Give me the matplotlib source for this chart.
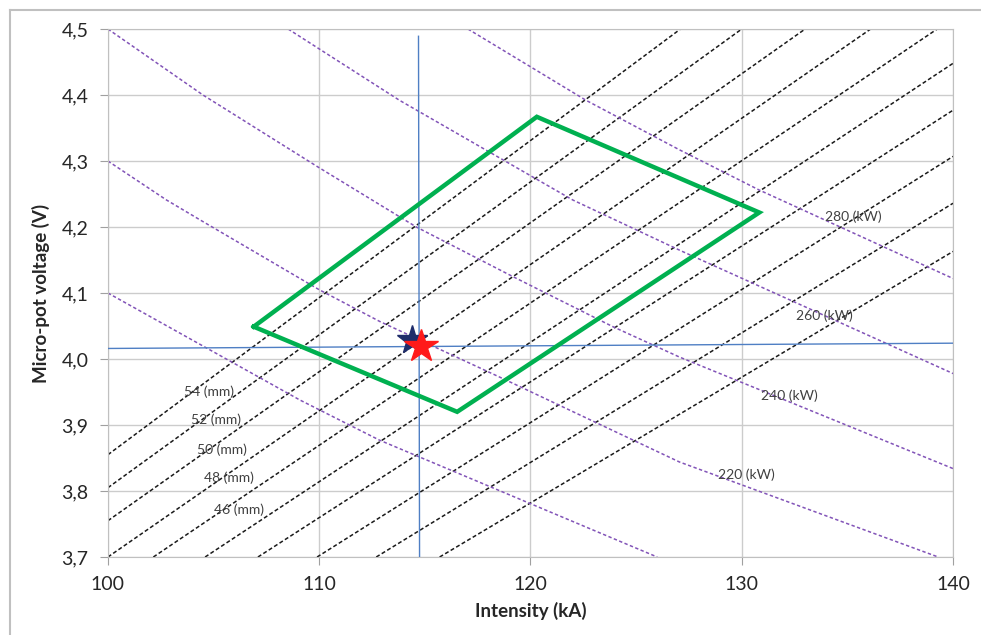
import numpy as np
import matplotlib.pyplot as plt
from matplotlib.lines import Line2D

plt.rcParams['font.family'] = ['Lato', 'DejaVu Sans']

# iso-length lines (mm): start and end points (I in kA, V in V)
mm_values = [54, 52, 50, 48, 46, 44, 42, 40, 38, 36]
mm_i0 = [100.0, 100.0, 100.0, 100.0, 102.15, 104.6, 107.1, 109.9, 112.7, 115.7]
mm_v0 = [3.855, 3.805, 3.755, 3.70, 3.70, 3.70, 3.70, 3.70, 3.70, 3.70]
mm_i1 = [127.1, 130.0, 133.0, 136.1, 139.25, 140.0, 140.0, 140.0, 140.0, 140.0]
mm_v1 = [4.50, 4.50, 4.50, 4.50, 4.50, 4.448, 4.377, 4.307, 4.236, 4.163]

# labels for the mm lines
mm_lab_text = ['54 (mm)', '52 (mm)', '50 (mm)', '48 (mm)', '46 (mm)']
mm_lab_i = [104.78, 105.1, 105.4, 105.72, 106.2]
mm_lab_v = [3.950, 3.908, 3.862, 3.820, 3.771]

# iso-power curves (kW)
kw_200_i = [100.0, 109.08, 112.86, 126.0]
kw_200_v = [4.10, 3.938, 3.877, 3.70]
kw_220_i = [100.0, 102.77, 104.35, 110.0, 112.86, 118.85, 127.05, 139.3]
kw_220_v = [4.30, 4.241, 4.211, 4.105, 4.057, 3.968, 3.844, 3.70]
kw_240_i = [100.0, 104.5, 109.94, 114.6, 119.16, 123.9, 127.05, 140.0]
kw_240_v = [4.50, 4.40, 4.291, 4.20, 4.125, 4.049, 4.003, 3.834]
kw_260_i = [108.53, 113.8, 122.0, 127.05, 140.0]
kw_260_v = [4.50, 4.392, 4.241, 4.165, 3.978]
kw_280_i = [117.04, 122.63, 127.05, 130.83, 140.0]
kw_280_v = [4.50, 4.392, 4.317, 4.256, 4.122]

kw_lab_text = ['280 (kW)', '260 (kW)', '240 (kW)', '220 (kW)']
kw_lab_i = [135.27, 133.9, 132.25, 130.2]
kw_lab_v = [4.216, 4.065, 3.944, 3.824]

# operating window
win_i = [106.9, 120.3, 130.83, 116.53, 106.9]
win_v = [4.049, 4.367, 4.222, 3.920, 4.049]

# set point crosshair
cross_h_i = [100.0, 140.0]
cross_h_v = [4.016, 4.024]
cross_v_i = [114.7, 114.75]
cross_v_v = [4.489, 3.70]

star_navy = (114.38, 4.029)
star_red = (114.8, 4.020)

fig = plt.figure(figsize=(9.81, 6.35), dpi=100)
ax = fig.add_axes([0.110, 0.1228, 0.8615, 0.8315])

ax.set_xlim(100, 140)
ax.set_ylim(3.7, 4.5)
ax.set_xticks(np.arange(100, 141, 10))
ax.set_yticks(np.round(np.arange(3.7, 4.51, 0.1), 1))
ax.set_yticklabels([f'{v:.1f}'.replace('.', ',') for v in np.arange(3.7, 4.51, 0.1)])
ax.grid(True, color='#cccccc', linewidth=1.0)
ax.set_axisbelow(True)
for s in ax.spines.values():
    s.set_color('#c0c0c0')
ax.tick_params(axis='both', colors='#a0a0a0', length=6, labelsize=14,
               labelcolor='#262626', direction='out')
ax.tick_params(axis='x', pad=8)
ax.tick_params(axis='y', pad=8)

for i0, v0, i1, v1 in zip(mm_i0, mm_v0, mm_i1, mm_v1):
    ax.plot([i0, i1], [v0, v1], color='#1a1a1a', linewidth=1.1,
            dashes=(2.6, 1.6), zorder=2)

for xs, ys in [(kw_200_i, kw_200_v), (kw_220_i, kw_220_v), (kw_240_i, kw_240_v),
               (kw_260_i, kw_260_v), (kw_280_i, kw_280_v)]:
    ax.plot(xs, ys, color='#8254b8', linewidth=1.1, dashes=(2.2, 1.6), zorder=2)

for t, x, y in zip(mm_lab_text, mm_lab_i, mm_lab_v):
    ax.text(x, y, t, fontsize=10, color='#404040', ha='center', va='center', zorder=3)
for t, x, y in zip(kw_lab_text, kw_lab_i, kw_lab_v):
    ax.text(x, y, t, fontsize=10, color='#404040', ha='center', va='center', zorder=3)

ax.plot(cross_h_i, cross_h_v, color='#4f7fc4', linewidth=1.0, zorder=3)
ax.plot(cross_v_i, cross_v_v, color='#4f7fc4', linewidth=1.0, zorder=3)

ax.plot(win_i, win_v, color='#00b050', linewidth=3.2, solid_joinstyle='miter', zorder=4)

ax.plot(*star_navy, marker='*', markersize=22, color='#1f2d6b', zorder=5)
ax.plot(*star_red, marker='*', markersize=25, color='#ff1a1a', zorder=6)

ax.set_xlabel('Intensity (kA)', fontsize=13.5, fontweight='bold', color='#262626', labelpad=6)
ax.set_ylabel('Micro-pot voltage (V)', fontsize=13.5, fontweight='bold', color='#262626', labelpad=8)

# outer frame of the chart
fig.add_artist(Line2D([10 / 981, 1], [1 - 10 / 635, 1 - 10 / 635], color='#c0c0c0', linewidth=1.5))
fig.add_artist(Line2D([10 / 981, 10 / 981], [0, 1 - 10 / 635], color='#c0c0c0', linewidth=1.5))

fig.savefig('out.png', dpi=100)
